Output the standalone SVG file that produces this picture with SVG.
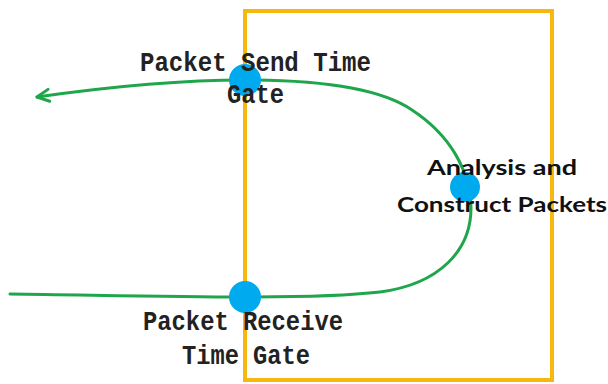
<svg xmlns="http://www.w3.org/2000/svg" width="608" height="384" viewBox="0 0 608 384">
  <style>
    .frame { fill: none; stroke: #f6b70e; stroke-width: 4; }
    .flow { fill: none; stroke: #1fa64c; stroke-width: 3; stroke-linecap: round; }
    .dot { fill: #00aaee; }
    .mono { font-family: "Liberation Mono", "DejaVu Sans Mono", monospace; font-size: 27px; font-weight: bold; fill: #222; }
    .sans { font-family: Lato, "Open Sans", "Liberation Sans", sans-serif; font-size: 21px; font-weight: bold; fill: #111; }
  </style>
  <defs>
    <marker id="chevron" viewBox="0 0 16 16" refX="14" refY="8" markerWidth="16" markerHeight="16" markerUnits="userSpaceOnUse" orient="auto">
      <polyline points="2,2 14,8 2,14" fill="none" stroke="#1fa64c" stroke-width="3" stroke-linecap="round" stroke-linejoin="round"/>
    </marker>
  </defs>
  <rect width="608" height="384" fill="#ffffff"/>

  <!-- processing boundary -->
  <g id="boundary">
    <rect class="frame" x="245" y="11" width="307" height="369"/>
  </g>

  <!-- packet path: in at the bottom, loop through the box, out at the top -->
  <g id="connectors">
    <path class="flow" marker-end="url(#chevron)"
          d="M 10,294 C 90,295 170,297 245,297 C 300,297 345,296 380,292 C 440,284 471,250 471,208 C 470,170 450,135 412,110 C 380,88 320,80 245,80 C 170,80 100,88 37,97"/>
  </g>

  <g id="send-gate">
    <circle class="dot" cx="245" cy="80" r="16"/>
    <text class="mono" x="255.5" y="71" text-anchor="middle" textLength="231" lengthAdjust="spacingAndGlyphs">Packet Send Time</text>
    <text class="mono" x="255.5" y="103" text-anchor="middle" textLength="57" lengthAdjust="spacingAndGlyphs">Gate</text>
  </g>

  <g id="analysis">
    <circle class="dot" cx="465" cy="187" r="15"/>
    <text class="sans" x="502" y="175" text-anchor="middle" textLength="150" lengthAdjust="spacingAndGlyphs">Analysis and</text>
    <text class="sans" x="502" y="212" text-anchor="middle" textLength="210" lengthAdjust="spacingAndGlyphs">Construct Packets</text>
  </g>

  <g id="receive-gate">
    <circle class="dot" cx="245" cy="297" r="16"/>
    <text class="mono" x="243" y="330" text-anchor="middle" textLength="200" lengthAdjust="spacingAndGlyphs">Packet Receive</text>
    <text class="mono" x="246" y="364" text-anchor="middle" textLength="128" lengthAdjust="spacingAndGlyphs">Time Gate</text>
  </g>
</svg>
